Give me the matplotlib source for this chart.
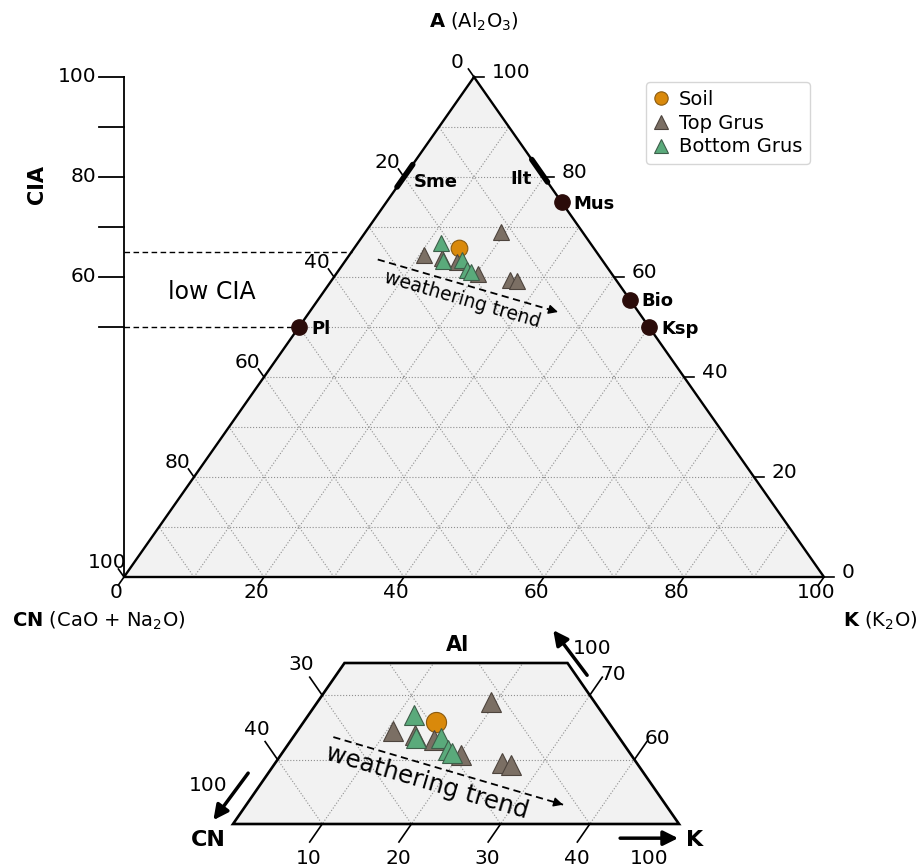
import numpy as np
import matplotlib.pyplot as plt
from matplotlib.patches import Polygon

# compositions in percent: A = Al2O3, CN = CaO + Na2O, K = K2O
soil_A = [65.8]
soil_CN = [19.3]
soil_K = [14.9]

top_A = [64.4, 63.8, 63.0, 60.7, 69.0, 59.5, 59.2]
top_CN = [24.9, 22.7, 21.0, 19.1, 11.6, 15.1, 14.2]
top_K = [10.7, 13.5, 16.0, 20.2, 19.4, 25.4, 26.6]

bottom_A = [66.9, 63.3, 63.4, 61.5, 61.1]
bottom_CN = [21.3, 22.8, 20.0, 20.2, 19.9]
bottom_K = [11.8, 13.9, 16.6, 18.3, 19.0]

mineral_names = ['Pl', 'Mus', 'Bio', 'Ksp']
mineral_A = [50, 75, 55.5, 50]
mineral_CN = [50, 0, 0, 0]
mineral_K = [0, 25, 44.5, 50]

sme_A = [78.0, 82.5]   # smectite range on A-CN edge
ilt_A = [79.0, 83.5]   # illite range on A-K edge

cia_ticks = [50, 60, 70, 80, 90, 100]
cia_labels = [60, 80, 100]
low_cia = [50, 65]

trend_A = [63.5, 53.0]
trend_CN = [32.0, 11.5]
trend_K = [4.5, 35.5]

SOIL = '#d9890b'
TOP = '#7b6f64'
BOTTOM = '#5aaa7b'
MINERAL = '#2b0c0a'
GRIDC = '#8f8f8f'


def tern(A, CN, K):
    A = np.asarray(A, float)
    CN = np.asarray(CN, float)
    K = np.asarray(K, float)
    s = A + CN + K
    a = 100 * A / s
    return 100 * K / s + a / 2, a


def draw_grid(ax, clip=None):
    for v in range(10, 100, 10):
        for seg in (tern([v, v], [100 - v, 0], [0, 100 - v]),
                    tern([0, 100 - v], [100 - v, 0], [v, v]),
                    tern([0, 100 - v], [v, v], [100 - v, 0])):
            ln, = ax.plot(*seg, ls=':', lw=0.8, color=GRIDC, zorder=1)
            if clip is not None:
                ln.set_clip_path(clip)


def draw_samples(ax, ms):
    x, y = tern(soil_A, soil_CN, soil_K)
    ax.plot(x, y, 'o', ls='none', ms=ms, mfc=SOIL, mec='#8a5a10', mew=0.8,
            label='Soil', zorder=5, clip_on=False)
    x, y = tern(top_A, top_CN, top_K)
    ax.plot(x, y, '^', ls='none', ms=ms, mfc=TOP, mec='#4d443d', mew=0.8,
            label='Top Grus', zorder=6, clip_on=False)
    x, y = tern(bottom_A, bottom_CN, bottom_K)
    ax.plot(x, y, '^', ls='none', ms=ms, mfc=BOTTOM, mec='#3e5e4a', mew=0.8,
            label='Bottom Grus', zorder=7, clip_on=False)


def draw_trend(ax, text_xy, fs):
    x, y = tern(trend_A, trend_CN, trend_K)
    ax.plot(x, y, 'k--', lw=1.3, dashes=(4, 2.5), zorder=4)
    ax.annotate('', xy=(x[1], y[1]), xytext=(x[1] - 0.02 * (x[1] - x[0]), y[1] - 0.02 * (y[1] - y[0])),
                arrowprops=dict(arrowstyle='-|>', color='k', lw=1, mutation_scale=14,
                                shrinkA=0, shrinkB=0), zorder=4)
    p = ax.transData.transform(np.column_stack([x, y]))
    ang = np.degrees(np.arctan2(p[1, 1] - p[0, 1], p[1, 0] - p[0, 0]))
    ax.text(*text_xy, 'weathering trend', rotation=ang, ha='center', va='center',
            fontsize=fs, rotation_mode='anchor', zorder=4)


fig = plt.figure(figsize=(9.21, 8.68), dpi=100)

# ---------------- main A-CN-K triangle ----------------
ax = fig.add_axes([124 / 921, 291 / 868, 700 / 921, 500 / 868])
ax.set_xlim(0, 100)
ax.set_ylim(0, 100)
ax.axis('off')

tri = tern([100, 0, 0], [0, 100, 0], [0, 0, 100])
ax.add_patch(Polygon(np.column_stack(tri), closed=True, fc='#f2f2f2', ec='none', zorder=0))
draw_grid(ax)
ax.plot(*tern([100, 0, 0, 100], [0, 100, 0, 0], [0, 0, 100, 0]), 'k', lw=1.7,
        zorder=3, clip_on=False)

for v in range(0, 101, 20):
    x, y = tern(v, 100 - v, 0)
    ax.plot([x, x - 0.8], [y, y + 1.6], 'k', lw=1.2, clip_on=False)
    ax.text(x - 2.4, y + 3, f'{100 - v}', ha='center', va='center', fontsize=14.5)
    x, y = tern(v, 0, 100 - v)
    ax.plot([x, x + 1.4], [y, y], 'k', lw=1.2, clip_on=False)
    ax.text(x + 2.5, y + 1, f'{v}', ha='left', va='center', fontsize=14.5)
    x, y = tern(0, 100 - v, v)
    ax.plot([x, x - 0.8], [y, y - 1.6], 'k', lw=1.2, clip_on=False)
    ax.text(x - 1.1, y - 3.2, f'{v}', ha='center', va='center', fontsize=14.5)

# CIA scale
ax.plot([0, 0], [0, 100], 'k', lw=1.3, clip_on=False)
for v in cia_ticks:
    ax.plot([-3.6, 0], [v, v], 'k', lw=1.3, clip_on=False)
for v in cia_labels:
    ax.text(-4.0, v, str(v), ha='right', va='center', fontsize=14.5)
for a in low_cia:
    xe, _ = tern(a, 100 - a, 0)
    ax.plot([0, xe], [a, a], 'k--', lw=1.0, dashes=(4, 2.5), clip_on=False)
ax.text(12.6, 57, 'low CIA', ha='center', va='center', fontsize=17)
ax.text(-12.5, 78.4, 'CIA', rotation=90, ha='center', va='center', fontsize=15,
        fontweight='bold')

# minerals
xm, ym = tern(mineral_A, mineral_CN, mineral_K)
ax.plot(xm, ym, 'o', ls='none', ms=11, color=MINERAL, zorder=6, clip_on=False)
for name, x, y in zip(mineral_names, xm, ym):
    ax.text(x + 1.7, y - 0.4, name, ha='left', va='center', fontsize=13, fontweight='bold')
xs, ys = tern(sme_A, [100 - a for a in sme_A], [0, 0])
ax.plot(xs, ys, 'k', lw=4, solid_capstyle='round', zorder=6, clip_on=False)
ax.text(xs.mean() + 1.3, ys.mean() - 1.2, 'Sme', ha='left', va='center', fontsize=13,
        fontweight='bold')
xi, yi = tern(ilt_A, [0, 0], [100 - a for a in ilt_A])
ax.plot(xi, yi, 'k', lw=4, solid_capstyle='round', zorder=6, clip_on=False)
ax.text(xi.mean() - 1.1, yi.mean() - 1.7, 'Ilt', ha='right', va='center', fontsize=13,
        fontweight='bold')

draw_samples(ax, 12)
draw_trend(ax, (48.3, 55.4), 13.5)

ax.text(50, 111, r'$\mathbf{A}$ (Al$_2$O$_3$)', ha='center', va='center', fontsize=14)
ax.text(-16, -8.8, r'$\mathbf{CN}$ (CaO + Na$_2$O)', ha='left', va='center', fontsize=14)
ax.text(113.4, -8.8, r'$\mathbf{K}$ (K$_2$O)', ha='right', va='center', fontsize=14)

ax.legend(loc='upper right', bbox_to_anchor=(0.98, 0.99), borderaxespad=0,
          fontsize=14, markerscale=0.8, handlelength=0.8, handletextpad=0.5,
          labelspacing=0.25, borderpad=0.4, frameon=True, edgecolor='#cccccc')

# ---------------- zoomed inset (A = 50..75) ----------------
ins = fig.add_axes([233 / 921, 44 / 868, 446 / 921, 161 / 868])
ins.set_xlim(25, 75)
ins.set_ylim(50, 75)
ins.axis('off')

corners = np.column_stack(tern([50, 50, 75, 75], [50, 0, 0, 25], [0, 50, 25, 0]))
back = Polygon(corners, closed=True, fc='#f2f2f2', ec='none', zorder=0)
ins.add_patch(back)
ins.add_patch(Polygon(corners, closed=True, fc='none', ec='k', lw=1.9, zorder=3, clip_on=False))
draw_grid(ins, clip=back)

for a in (60, 70):
    x, y = tern(a, 100 - a, 0)
    ins.plot([x, x - 1.4], [y, y + 2.8], 'k', lw=1.2, clip_on=False)
    ins.text(x - 2.35, y + 4.7, f'{100 - a}', ha='center', va='center', fontsize=14.5)
    x, y = tern(a, 0, 100 - a)
    ins.plot([x, x + 1.4], [y, y + 2.8], 'k', lw=1.2, clip_on=False)
    ins.text(x + 2.6, y + 3.2, f'{a}', ha='center', va='center', fontsize=14.5)
for k in (10, 20, 30, 40):
    x, y = tern(50, 50 - k, k)
    ins.plot([x, x - 1.4], [y, y - 2.8], 'k', lw=1.2, clip_on=False)
    ins.text(x - 1.5, 44.7, f'{k}', ha='center', va='center', fontsize=14.5)

arrow = dict(arrowstyle='-|>', color='k', lw=2.5, mutation_scale=22, shrinkA=0, shrinkB=0)
ins.annotate('', xy=(60.9, 80.1), xytext=(64.7, 73.1), arrowprops=arrow, annotation_clip=False)
ins.annotate('', xy=(22.8, 50.6), xytext=(26.7, 57.9), arrowprops=arrow, annotation_clip=False)
ins.annotate('', xy=(74.9, 47.8), xytext=(68.4, 47.8), arrowprops=arrow, annotation_clip=False)
ins.text(65.3, 77.3, '100', ha='center', va='center', fontsize=14.5)
ins.text(22.2, 56.0, '100', ha='center', va='center', fontsize=14.5)
ins.text(71.7, 44.7, '100', ha='center', va='center', fontsize=14.5)
ins.text(50.2, 77.8, 'Al', ha='center', va='center', fontsize=15, fontweight='bold')
ins.text(22.2, 47.5, 'CN', ha='center', va='center', fontsize=16, fontweight='bold')
ins.text(76.8, 47.5, 'K', ha='center', va='center', fontsize=16, fontweight='bold')

draw_samples(ins, 14.5)
draw_trend(ins, (46.75, 56.5), 17.5)

fig.savefig('out.png', dpi=100)
